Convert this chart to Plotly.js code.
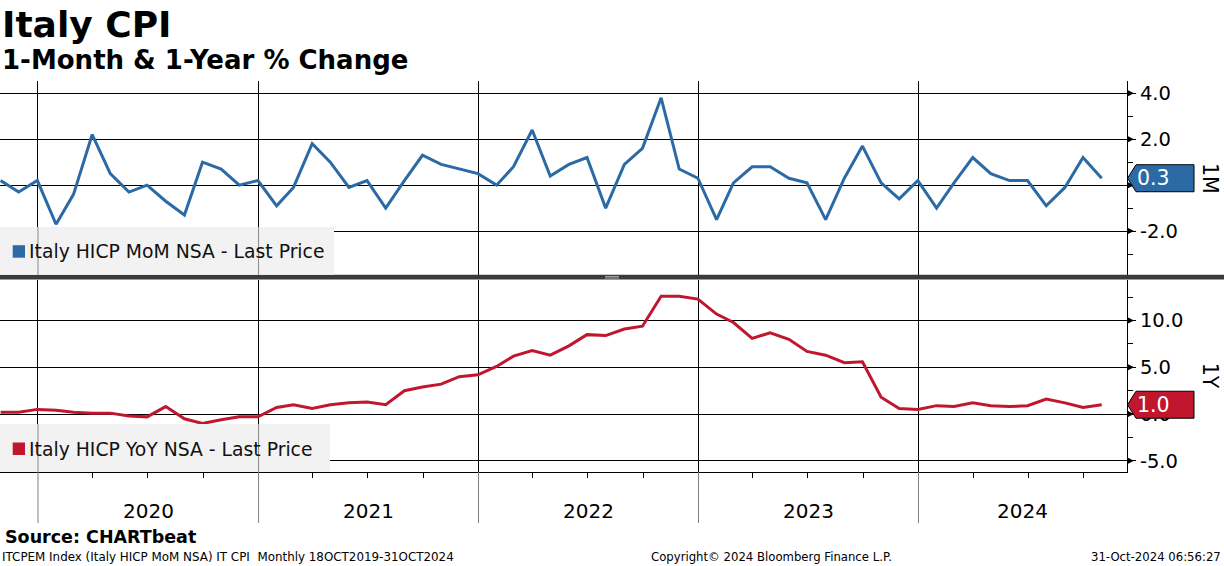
<!DOCTYPE html>
<html><head><meta charset="utf-8">
<script src="https://cdn.plot.ly/plotly-3.0.1.min.js"></script>
<style>html,body{margin:0;padding:0;background:#fff;}#chart{width:1224px;height:566px;}</style>
</head><body><div id="chart"></div>
<script>
// ---- data ----
const months = [
  '2019-10','2019-11','2019-12',
  '2020-01','2020-02','2020-03','2020-04','2020-05','2020-06','2020-07','2020-08','2020-09','2020-10','2020-11','2020-12',
  '2021-01','2021-02','2021-03','2021-04','2021-05','2021-06','2021-07','2021-08','2021-09','2021-10','2021-11','2021-12',
  '2022-01','2022-02','2022-03','2022-04','2022-05','2022-06','2022-07','2022-08','2022-09','2022-10','2022-11','2022-12',
  '2023-01','2023-02','2023-03','2023-04','2023-05','2023-06','2023-07','2023-08','2023-09','2023-10','2023-11','2023-12',
  '2024-01','2024-02','2024-03','2024-04','2024-05','2024-06','2024-07','2024-08','2024-09','2024-10'
];
const momValues = [
  0.2,-0.3,0.2,
  -1.7,-0.4,2.2,0.5,-0.3,0.0,-0.7,-1.3,1.0,0.7,0.0,0.2,
  -0.9,-0.1,1.8,1.0,-0.1,0.2,-1.0,0.2,1.3,0.9,0.7,0.5,
  0.0,0.8,2.4,0.4,0.9,1.2,-1.0,0.9,1.6,3.8,0.7,0.3,
  -1.5,0.1,0.8,0.8,0.3,0.1,-1.5,0.3,1.7,0.1,-0.6,0.2,
  -1.0,0.1,1.2,0.5,0.2,0.2,-0.9,-0.1,1.2,0.3
];
const yoyValues = [
  0.2,0.2,0.5,
  0.4,0.2,0.1,0.1,-0.2,-0.3,0.8,-0.5,-1.0,-0.6,-0.3,-0.3,
  0.7,1.0,0.6,1.0,1.2,1.3,1.0,2.5,2.9,3.2,4.0,4.2,
  5.1,6.2,6.8,6.3,7.3,8.5,8.4,9.1,9.4,12.6,12.6,12.3,
  10.7,9.8,8.1,8.7,8.0,6.7,6.3,5.5,5.6,1.8,0.6,0.5,
  0.9,0.8,1.2,0.9,0.8,0.9,1.6,1.2,0.7,1.0
];
const yearLabels = ['2020','2021','2022','2023','2024'];
const momTickVals = [-2,0,2,4];
const momTickText = ['-2.0','0.0','2.0','4.0'];
const yoyTickVals = [-5,0,5,10];
const yoyTickText = ['-5.0','0.0','5.0','10.0'];
const momName = 'Italy HICP MoM NSA - Last Price';
const yoyName = 'Italy HICP YoY NSA - Last Price';

// ---- helpers ----
function monthEnd(m){const [y,mo]=m.split('-').map(Number);const d=new Date(Date.UTC(y,mo,0));return d.toISOString().slice(0,10);}
const dates = months.map(monthEnd);
const xRange = ['2019-10-30','2024-12-12'];

const W=1224,H=566,L=0,R=1127,T=81,B=472;
const px = x => (x-L)/(R-L);
const py = y => (B-y)/(B-T);
const FONT = 'DejaVu Sans, Verdana, sans-serif';
const BLUE='#2c6aa6', RED='#c0172f';

const traces = [
  {x:dates,y:momValues,xaxis:'x2',yaxis:'y2',type:'scatter',mode:'lines',line:{color:BLUE,width:3},name:momName,showlegend:false},
  {x:dates,y:yoyValues,xaxis:'x',yaxis:'y',type:'scatter',mode:'lines',line:{color:RED,width:3},name:yoyName,showlegend:false}
];

const yearStarts = yearLabels.map(y=>y+'-01-01');
const shapes = [];
const annotations = [];

// separator between panels
shapes.push({type:'rect',xref:'paper',yref:'paper',x0:px(0),x1:px(W),y0:py(279.5),y1:py(274.8),fillcolor:'#3a3a3a',line:{width:0},layer:'above'});
[276.4,278.0].forEach(yy=>shapes.push({type:'line',xref:'paper',yref:'paper',x0:px(605),x1:px(619),y0:py(yy),y1:py(yy),line:{color:'#a8a8a8',width:1},layer:'above'}));

// legend boxes
const legBoxes = [
  {x1:334,yTop:227,yBot:274.8,color:BLUE,textY:251.7,name:momName},
  {x1:330,yTop:424,yBot:472,color:RED,textY:449,name:yoyName}
];
legBoxes.forEach(b=>{
  shapes.push({type:'rect',xref:'paper',yref:'paper',x0:px(0),x1:px(b.x1),y0:py(b.yBot),y1:py(b.yTop),fillcolor:'#f2f2f2',line:{width:0},layer:'above'});
  ['2020-01-01','2021-01-01'].forEach(d=>shapes.push({type:'line',xref:'x',yref:'paper',x0:d,x1:d,y0:py(b.yBot),y1:py(b.yTop),line:{color:'#8a8a8a',width:1},layer:'above'}));
  shapes.push({type:'rect',xref:'paper',yref:'paper',x0:px(12.7),x1:px(25),y0:py(b.textY+6),y1:py(b.textY-6.5),fillcolor:b.color,line:{width:0},layer:'above'});
  annotations.push({xref:'paper',yref:'paper',x:px(27),y:py(b.textY),xanchor:'left',yanchor:'middle',showarrow:false,text:b.name,font:{family:FONT,size:18.8,color:'#111'}});
});

// triangle tick marks on right axes
function tri(axis,vals){vals.forEach(v=>shapes.push({type:'path',xref:'paper',yref:axis,xsizemode:'pixel',ysizemode:'pixel',xanchor:1,yanchor:v,path:'M0,-3.5 L7,0 L0,3.5 Z',fillcolor:'#000',line:{width:0},layer:'above'}));}
tri('y2',momTickVals);
tri('y',yoyTickVals);

// last value labels
function lastLabel(axis,val,color){
  shapes.push({type:'path',xref:'paper',yref:axis,xsizemode:'pixel',ysizemode:'pixel',xanchor:1,yanchor:val,path:'M0.5,0 L9,13.5 L67,13.5 L67,-13.5 L9,-13.5 Z',fillcolor:color,line:{color:'#000',width:1},layer:'above'});
  annotations.push({xref:'paper',yref:axis,x:1,xshift:8,y:val,xanchor:'left',yanchor:'middle',showarrow:false,text:val.toFixed(1),font:{family:FONT,size:20.5,color:'#fff'}});
}
lastLabel('y2',momValues[momValues.length-1],BLUE);
lastLabel('y',yoyValues[yoyValues.length-1],RED);

// panel side labels
annotations.push({xref:'paper',yref:'y2 domain',x:px(1210),y:0.5,xanchor:'center',yanchor:'middle',showarrow:false,textangle:90,text:'1M',font:{family:FONT,size:20.5,color:'#000'}});
annotations.push({xref:'paper',yref:'y domain',x:px(1210),y:0.5,xanchor:'center',yanchor:'middle',showarrow:false,textangle:90,text:'1Y',font:{family:FONT,size:20.5,color:'#000'}});

// year separators below axis and year labels
yearStarts.forEach(d=>shapes.push({type:'line',xref:'x',yref:'paper',x0:d,x1:d,y0:0,y1:py(523),line:{color:'#808080',width:1}}));
const endMs = Date.parse(xRange[1]);
yearLabels.forEach(y=>{
  const s=Date.parse(y+'-01-01'); const e=Math.min(Date.parse((+y+1)+'-01-01'),endMs);
  const mid=new Date((s+e)/2).toISOString().slice(0,10);
  annotations.push({xref:'x',yref:'paper',x:mid,y:py(511),xanchor:'center',yanchor:'middle',showarrow:false,text:y,font:{family:FONT,size:20,color:'#000'}});
});

// titles
annotations.push({xref:'paper',yref:'paper',x:px(0),y:py(24),xanchor:'left',yanchor:'middle',showarrow:false,text:'<b>Italy CPI</b>',font:{family:FONT,size:36,color:'#000'}});
annotations.push({xref:'paper',yref:'paper',x:px(0),y:py(60),xanchor:'left',yanchor:'middle',showarrow:false,text:'<b>1-Month &amp; 1-Year % Change</b>',font:{family:FONT,size:26,color:'#000'}});
// footer
annotations.push({xref:'paper',yref:'paper',x:px(3),y:py(537),xanchor:'left',yanchor:'middle',showarrow:false,text:'<b>Source: CHARTbeat</b>',font:{family:FONT,size:17.5,color:'#000'}});
annotations.push({xref:'paper',yref:'paper',x:px(0),y:py(557),xanchor:'left',yanchor:'middle',showarrow:false,text:'ITCPEM Index (Italy HICP MoM NSA) IT CPI  Monthly 18OCT2019-31OCT2024',font:{family:FONT,size:11.9,color:'#000'}});
annotations.push({xref:'paper',yref:'paper',x:px(772),y:py(557),xanchor:'center',yanchor:'middle',showarrow:false,text:'Copyright© 2024 Bloomberg Finance L.P.',font:{family:FONT,size:11.7,color:'#000'}});
annotations.push({xref:'paper',yref:'paper',x:px(1223),y:py(557),xanchor:'right',yanchor:'middle',showarrow:false,text:'31-Oct-2024 06:56:27',font:{family:FONT,size:11.7,color:'#000'}});

const xCommon = {type:'date',range:xRange,showgrid:true,gridcolor:'#000',gridwidth:1,dtick:'M12',tick0:'2020-01-01',ticks:'',showticklabels:false,zeroline:false,fixedrange:true};
const yCommon = {side:'right',showgrid:true,gridcolor:'#000',gridwidth:1,zeroline:false,showline:true,linecolor:'#000',linewidth:1,ticks:'outside',ticklen:8,tickcolor:'#000',tickfont:{family:FONT,size:19.5,color:'#000'},tickmode:'array',fixedrange:true};

const layout = {
  width:W,height:H,margin:{l:L,r:W-R,t:T,b:H-B,pad:0},
  paper_bgcolor:'#fff',plot_bgcolor:'#fff',showlegend:false,hovermode:false,
  xaxis:Object.assign({},xCommon,{domain:[0,1],anchor:'y',showline:true,linecolor:'#000',linewidth:1,
    minor:{dtick:'M3',tick0:'2020-01-01',ticks:'outside',ticklen:5,tickcolor:'#000',showgrid:false}}),
  xaxis2:Object.assign({},xCommon,{domain:[0,1],anchor:'y2',matches:'x',showline:false}),
  yaxis:Object.assign({},yCommon,{domain:[0,py(279.5)],anchor:'x',range:[-6.2,14.4],tickvals:yoyTickVals,ticktext:yoyTickText,
    minor:{dtick:2.5,tick0:0,ticks:'outside',ticklen:5,tickcolor:'#000',showgrid:false}}),
  yaxis2:Object.assign({},yCommon,{domain:[py(274.8),1],anchor:'x2',range:[-3.9,4.53],tickvals:momTickVals,ticktext:momTickText,
    minor:{dtick:1,tick0:0,ticks:'outside',ticklen:5,tickcolor:'#000',showgrid:false}}),
  shapes:shapes,annotations:annotations
};
Plotly.newPlot('chart',traces,layout,{staticPlot:true,displayModeBar:false});
</script></body></html>
